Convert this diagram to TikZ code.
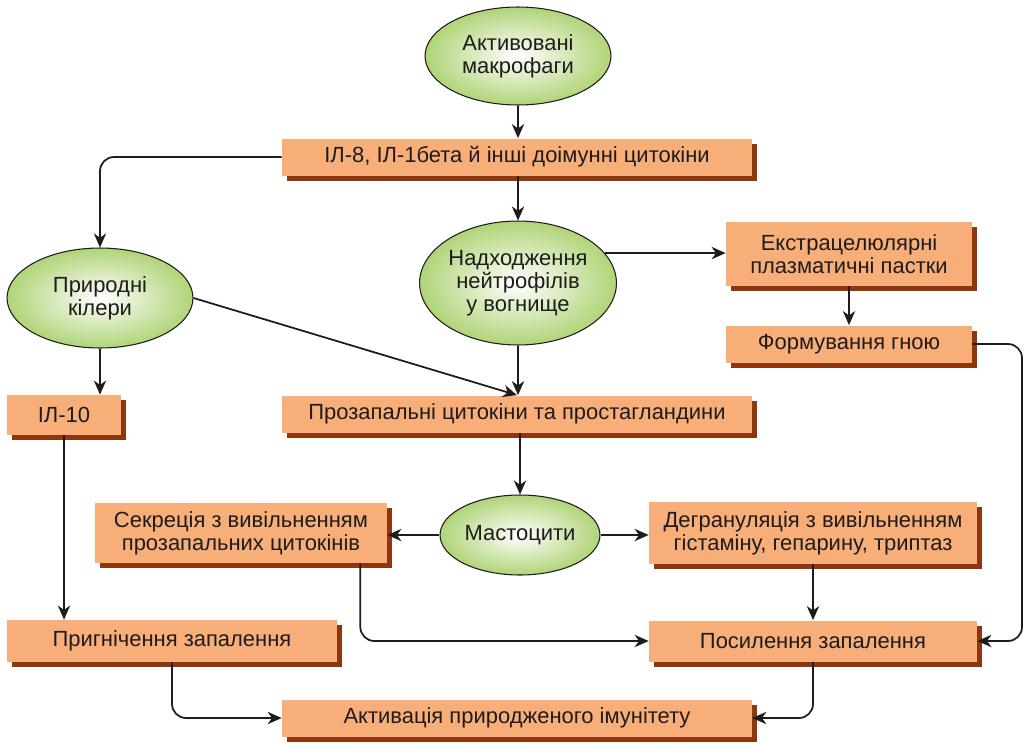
\documentclass[tikz,border=0pt]{standalone}
\usepackage{fontspec}
\setmainfont{Liberation Sans}
\usepackage{tikz}
\usetikzlibrary{arrows.meta,positioning,shapes.geometric,shadows,calc}
\definecolor{mysalmon}{RGB}{248,174,120}
\definecolor{mybrown}{RGB}{140,55,15}
\definecolor{mygreen}{RGB}{176,212,120}
\definecolor{mydark}{RGB}{30,28,28}

\begin{document}
\begin{tikzpicture}[x=0.02cm, y=-0.02cm,
    font=\fontsize{12.5}{13}\selectfont, text=mydark,
    box/.style={fill=mysalmon, align=center, inner sep=2pt,
      drop shadow={shadow xshift=0.1cm, shadow yshift=-0.1cm,
                   fill=mybrown, opacity=1}},
    cell/.style={ellipse, draw=mydark, line width=0.6pt, inner color=white,
      outer color=mygreen, align=center, inner sep=0pt},
    arr/.style={draw=mydark, line width=1pt,
      -{Stealth[length=8pt, width=7pt, inset=2.5pt]}},
    elbow/.style={arr, rounded corners=8pt}]
  \useasboundingbox (0,0) rectangle (1027,744);

  % Cells
  \node[cell, minimum width=3.72cm, minimum height=1.96cm] (macro) at (518,56)
    {Активовані\\макрофаги};
  \node[cell, minimum width=3.88cm, minimum height=2.48cm] (neutro) at (518,283)
    {Надходження\\нейтрофілів\\у вогнище};
  \node[cell, minimum width=3.72cm, minimum height=2.0cm] (killers) at (100,298)
    {Природні\\кілери};
  \node[cell, minimum width=3.2cm, minimum height=1.6cm] (mast) at (520,535)
    {Мастоцити};

  % Boxes
  \node[box, minimum width=9.4cm, minimum height=0.74cm] (cyto) at (517,157)
    {ІЛ-8, ІЛ-1бета й інші доімунні цитокіни};
  \node[box, minimum width=4.92cm, minimum height=1.28cm] (nets) at (849,254)
    {Екстрацелюлярні\\плазматичні пастки};
  \node[box, minimum width=4.92cm, minimum height=0.74cm] (pus) at (849,344)
    {Формування гною};
  \node[box, minimum width=2.3cm, minimum height=0.8cm] (il10) at (64,415)
    {ІЛ-10};
  \node[box, minimum width=9.4cm, minimum height=0.74cm] (proinfl) at (517,414)
    {Прозапальні цитокіни та простагландини};
  \node[box, minimum width=5.84cm, minimum height=1.2cm] (secr) at (241,533)
    {Секреція з вивільненням\\прозапальних цитокінів};
  \node[box, minimum width=6.56cm, minimum height=1.24cm] (degran) at (813,533)
    {Дегрануляція з вивільненням\\гістаміну, гепарину, триптаз};
  \node[box, minimum width=6.6cm, minimum height=0.84cm] (suppr) at (172,641)
    {Пригнічення запалення};
  \node[box, minimum width=6.56cm, minimum height=0.82cm] (enhance) at (813,641)
    {Посилення запалення};
  \node[box, minimum width=9.4cm, minimum height=0.74cm] (innate) at (517,718)
    {Активація природженого імунітету};

  \coordinate (rbend) at (1022,344);

  % Connectors
  \draw[arr] (macro.south) -- (macro.south |- cyto.north);
  \draw[elbow] (cyto.west) -| (killers.north);
  \draw[arr] (cyto.south -| neutro) -- (neutro.north);
  \draw[arr] (neutro.19) -- (neutro.19 -| nets.west);
  \draw[arr] (nets.south) -- (pus.north);
  \draw[elbow] (pus.east) -- (rbend) |- (enhance.east);
  \draw[arr] (killers.east) -- (proinfl.north);
  \draw[arr] (neutro.south) -- (neutro.south |- proinfl.north);
  \draw[arr] (killers.south) -- (killers.south |- il10.north);
  \draw[arr] (il10.south) -- (il10.south |- suppr.north);
  \draw[arr] (proinfl.south -| mast) -- (mast.north);
  \draw[arr] (mast.west) -- (mast.west -| secr.east);
  \draw[arr] (mast.east) -- (mast.east -| degran.west);
  \draw[elbow] ([xshift=-0.54cm]secr.south east) |- (enhance.west);
  \draw[arr] (degran.south) -- (enhance.north);
  \draw[elbow] (suppr.south) |- (innate.west);
  \draw[elbow] (enhance.south) |- (innate.east);
\end{tikzpicture}
\end{document}
